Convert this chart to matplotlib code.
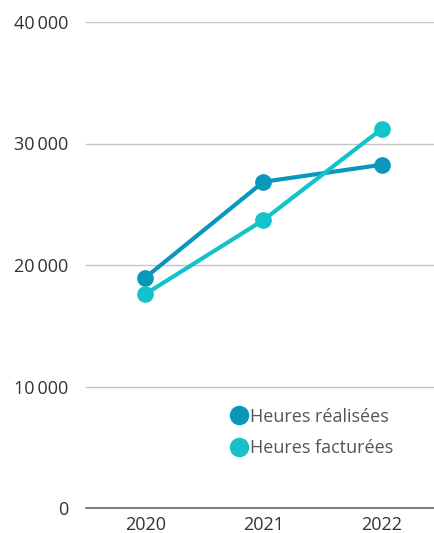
import matplotlib
matplotlib.use("Agg")
import matplotlib.pyplot as plt
from matplotlib.lines import Line2D

years = ["2020", "2021", "2022"]
heures_realisees = [18950, 26850, 28250]
heures_facturees = [17600, 23700, 31200]
yticks = [0, 10000, 20000, 30000, 40000]
ytick_labels = ["0", "10\u2009000", "20\u2009000", "30\u2009000", "40\u2009000"]

plt.rcParams['font.family'] = ['Open Sans', 'DejaVu Sans']

fig = plt.figure(figsize=(4.35, 5.33), dpi=100)
ax = fig.add_axes([86/435, 1 - 508/533, (435-86)/435, (508-22)/533])

c_real = "#0A97BC"
c_fact = "#12C3CA"
x = list(range(len(years)))
ax.plot(x, heures_realisees, color=c_real, lw=3, marker="o", ms=11, zorder=3,
        solid_capstyle="round")
ax.plot(x, heures_facturees, color=c_fact, lw=3, marker="o", ms=11, zorder=3,
        solid_capstyle="round")

ax.set_xlim(-0.5, 2.45)
ax.set_ylim(0, 40000)
ax.set_xticks(x)
ax.set_xticklabels(years)
ax.set_yticks(yticks)
ax.set_yticklabels(ytick_labels)
for y in yticks[1:]:
    ax.axhline(y, color="#c4c4c4", lw=1, zorder=1)
for s in ["top", "right", "left"]:
    ax.spines[s].set_visible(False)
ax.spines["bottom"].set_color("#666666")
ax.spines["bottom"].set_linewidth(1.2)
ax.tick_params(axis="both", length=0, labelsize=13, colors="#333333")
ax.tick_params(axis="y", pad=13)
ax.tick_params(axis="x", pad=6)

handles = [
    Line2D([], [], color=c_real, marker="o", ls="none", ms=13),
    Line2D([], [], color=c_fact, marker="o", ls="none", ms=13),
]
leg = ax.legend(handles, ["Heures réalisées", "Heures facturées"],
                loc="upper left", bbox_to_anchor=(0.365, 0.24), frameon=False,
                handletextpad=0.15, labelspacing=0.75, handlelength=1.0,
                fontsize=13, labelcolor="#555555")

fig.savefig("out.png", dpi=100)
